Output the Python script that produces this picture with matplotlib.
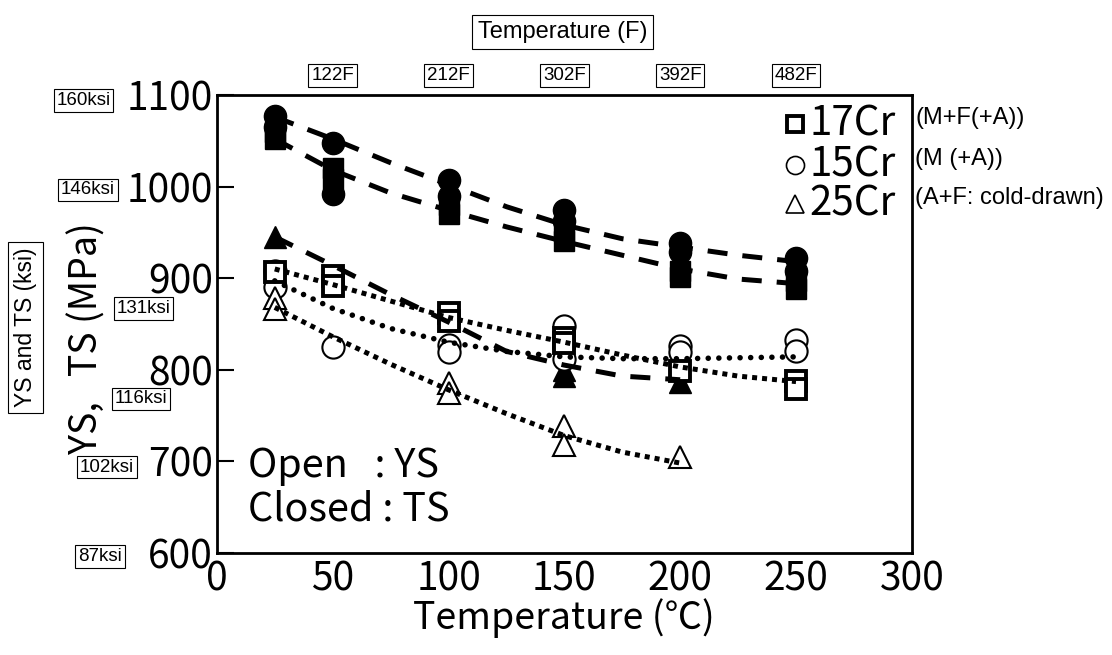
import matplotlib
matplotlib.use("Agg")
import matplotlib.pyplot as plt

# measured points (temperature in C, strength in MPa)
cr17_ts_x = [25, 25, 50, 50, 100, 100, 150, 150, 200, 200, 250, 250]
cr17_ts = [1060, 1052, 1020, 1008, 980, 970, 951, 941, 908, 901, 897, 888]
cr15_ts_x = [25, 25, 50, 50, 100, 100, 150, 150, 200, 200, 250, 250]
cr15_ts = [1077, 1065, 1048, 992, 1007, 990, 974, 962, 938, 928, 922, 908]
cr25_ts_x = [25, 150, 150, 200]
cr25_ts = [945, 800, 793, 787]

cr17_ys_x = [25, 50, 50, 100, 100, 150, 150, 200, 250, 250]
cr17_ys = [907, 902, 891, 862, 853, 835, 829, 799, 788, 779]
cr15_ys_x = [25, 25, 50, 100, 100, 150, 150, 200, 200, 250, 250]
cr15_ys = [908, 890, 825, 827, 819, 848, 812, 826, 819, 832, 820]
cr25_ys_x = [25, 25, 100, 100, 150, 150, 200]
cr25_ys = [878, 866, 786, 775, 739, 718, 705]

# trend curves
fit_x = [25, 50, 75, 100, 125, 150, 175, 200, 225, 250]
cr15_ts_fit = [1076, 1052, 1026, 1002, 978, 958, 943, 934, 925, 918]
cr17_ts_fit = [1052, 1018, 993, 974, 956, 940, 925, 910, 899, 894]
cr17_ys_fit = [910, 893, 875, 857, 843, 830, 816, 803, 793, 787]
cr15_ys_fit = [897, 867, 845, 830, 820, 814, 812, 812, 813, 814]
fit25_x = [25, 50, 75, 100, 125, 150, 175, 200]
cr25_ts_fit = [945, 914, 882, 852, 820, 805, 793, 789]
cr25_ys_fit = [868, 836, 806, 778, 752, 728, 710, 698]

x_ticks = [0, 50, 100, 150, 200, 250, 300]
y_ticks = [600, 700, 800, 900, 1000, 1100]
f_labels = ["122F", "212F", "302F", "392F", "482F"]
f_pos = [50, 100, 150, 200, 250]
ksi_labels = ["160ksi", "146ksi", "131ksi", "116ksi", "102ksi", "87ksi"]

big = "Noto Sans CJK JP"
small = "Liberation Sans"

fig = plt.figure(figsize=(11.12, 6.55), dpi=100)
ax = fig.add_axes([0.195, 0.156, 0.625, 0.699])

# markers
ms = 16
ax.plot(cr17_ts_x, cr17_ts, "s", ms=ms - 1, color="black", zorder=3)
ax.plot(cr15_ts_x, cr15_ts, "o", ms=ms, color="black", zorder=3)
ax.plot(cr25_ts_x, cr25_ts, "^", ms=ms, color="black", zorder=3)
ax.plot(cr15_ys_x, cr15_ys, "o", ms=ms, mfc="white", mec="black", mew=1.5, zorder=3)
ax.plot(cr25_ys_x, cr25_ys, "^", ms=ms, mfc="white", mec="black", mew=1.5, zorder=3)
ax.plot(cr17_ys_x, cr17_ys, "s", ms=ms - 1, mfc="white", mec="black", mew=2.8, zorder=3)

# trend lines
dash = dict(color="black", lw=3.6, dashes=(4, 3), dash_capstyle="butt", zorder=4)
ax.plot(fit_x, cr15_ts_fit, **dash)
ax.plot(fit_x, cr17_ts_fit, **dash)
ax.plot(fit25_x, cr25_ts_fit, **dash)
sq = dict(color="black", lw=3.6, dashes=(1, 1), dash_capstyle="butt", zorder=4)
ax.plot(fit_x, cr17_ys_fit, **sq)
ax.plot(fit25_x, cr25_ys_fit, **sq)
ax.plot(fit_x, cr15_ys_fit, color="black", lw=4, dashes=(0.01, 1.9),
        dash_capstyle="round", zorder=4)

ax.set_xlim(0, 300)
ax.set_ylim(600, 1100)
ax.set_xticks(x_ticks)
ax.set_yticks(y_ticks)
ax.tick_params(axis="y", direction="in", length=12, width=1.5, labelsize=28, pad=3)
ax.tick_params(axis="x", length=0, labelsize=28, pad=5)
for lab in ax.get_xticklabels() + ax.get_yticklabels():
    lab.set_fontfamily(big)
for sp in ax.spines.values():
    sp.set_linewidth(2)

ax.set_xlabel("Temperature (℃)", fontsize=27, family=big, labelpad=-1)
ax.set_ylabel("YS,   TS (MPa)", fontsize=27, family=big)
ax.yaxis.set_label_coords(-0.158, 0.47)

# legend drawn as text + markers inside the axes
leg_names = ["17Cr", "15Cr", "25Cr"]
leg_notes = ["(M+F(+A))", "(M (+A))", "(A+F: cold-drawn)"]
leg_marks = ["s", "o", "^"]
leg_y = [0.937, 0.848, 0.762]
for name, note, mk, yy in zip(leg_names, leg_notes, leg_marks, leg_y):
    ax.plot([0.832], [yy], mk, ms=13 if mk != "s" else 12, mfc="white", mec="black",
            mew=2.8 if mk == "s" else 1.2, transform=ax.transAxes, clip_on=False)
    ax.text(0.853, yy, name, fontsize=29, family=big, transform=ax.transAxes,
            va="center", ha="left")
    ax.text(1.005, yy + 0.012, note, fontsize=17, family=small, transform=ax.transAxes,
            va="center", ha="left")

ax.text(0.045, 0.19, "Open   : YS", fontsize=28.5, family=big, transform=ax.transAxes,
        va="center")
ax.text(0.045, 0.095, "Closed : TS", fontsize=28.5, family=big, transform=ax.transAxes,
        va="center")

box = dict(boxstyle="square,pad=0.15", fc="white", ec="black", lw=0.8)
for lab, xx in zip(f_labels, f_pos):
    ax.annotate(lab, (xx, 1.0), xycoords=("data", "axes fraction"), xytext=(0, 14),
                textcoords="offset points", ha="center", va="center",
                fontsize=13.5, family=small, bbox=box)
fig.text(0.506, 0.951, "Temperature (F)", fontsize=17, family=small, ha="center",
         va="center", bbox=dict(boxstyle="square,pad=0.25", fc="white", ec="black", lw=0.8))
fig.text(0.023, 0.50, "YS and TS (ksi)", fontsize=16.5, family=small, ha="center",
         va="center", rotation=90,
         bbox=dict(boxstyle="square,pad=0.25", fc="white", ec="black", lw=0.8))

ksi_xy = [(0.075, 0.847), (0.079, 0.710), (0.129, 0.529), (0.127, 0.391),
          (0.096, 0.287), (0.090, 0.150)]
for lab, (xx, yy) in zip(ksi_labels, ksi_xy):
    fig.text(xx, yy, lab, fontsize=13.5, family=small, ha="center", va="center", bbox=box)

fig.savefig("out.png", dpi=100)
